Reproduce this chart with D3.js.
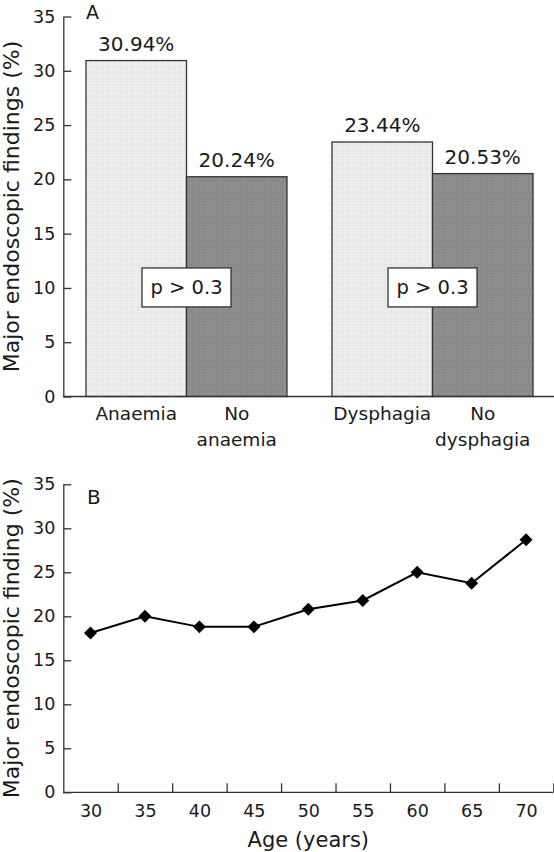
<!DOCTYPE html>
<html>
<head>
<meta charset="utf-8">
<script src="https://cdn.jsdelivr.net/npm/d3@7"></script>
<style>
  html, body { margin: 0; padding: 0; background: #ffffff; }
  svg { display: block; }
  text { font-family: "DejaVu Sans", sans-serif; fill: #1a1a1a; }
</style>
</head>
<body>
<svg id="chart" width="554" height="852"></svg>
<script>
// ---------- Data ----------
const groups = ["Anaemia", "Dysphagia"];
const barKeys = [["Anaemia", "yes"], ["Anaemia", "no"], ["Dysphagia", "yes"], ["Dysphagia", "no"]];
const barLabels = [["Anaemia"], ["No", "anaemia"], ["Dysphagia"], ["No", "dysphagia"]];
const barValues = [30.94, 20.24, 23.44, 20.53];
const barValueLabels = ["30.94%", "20.24%", "23.44%", "20.53%"];
const pLabels = ["p > 0.3", "p > 0.3"];
const yTicks = [0, 5, 10, 15, 20, 25, 30, 35];

const ages = [30, 35, 40, 45, 50, 55, 60, 65, 70];
const findings = [18.1, 20.0, 18.8, 18.8, 20.8, 21.8, 25.0, 23.75, 28.7];
const ageTickMarks = [32.5, 37.5, 42.5, 47.5, 52.5, 57.5, 62.5, 67.5, 72.5];

// ---------- Setup ----------
const svg = d3.select("#chart");
const axisColor = "#333";
const axisWidth = 1.3;

const defs = svg.append("defs");
function makePattern(id, base, line) {
  const p = defs.append("pattern").attr("id", id)
    .attr("patternUnits", "userSpaceOnUse").attr("width", 6).attr("height", 6);
  p.append("rect").attr("width", 6).attr("height", 6).attr("fill", base);
  p.append("path").attr("d", "M0,0.5H6M0.5,0V6").attr("stroke", line).attr("stroke-width", 1.5);
}
makePattern("lightPat", "#eeeeee", "#e6e6e6");
makePattern("darkPat", "#8e8e8e", "#888888");

// ---------- Panel A ----------
const axL = 63.3;
const yA = d3.scaleLinear().domain([0, 35]).range([396.5, 16.5]);
const xOuter = d3.scaleBand().domain(groups).range([64, 555])
  .paddingInner(0.183).paddingOuter(0.0894);
const xInner = d3.scaleBand().domain(["yes", "no"]).range([0, xOuter.bandwidth()]);
const barX = k => xOuter(k[0]) + xInner(k[1]);
const bw = xInner.bandwidth();

const gA = svg.append("g");

// bars
gA.selectAll("rect.bar").data(barValues).join("rect")
  .attr("class", "bar")
  .attr("x", (d, i) => barX(barKeys[i]))
  .attr("width", bw)
  .attr("y", d => yA(d))
  .attr("height", d => yA(0) - yA(d))
  .attr("fill", (d, i) => barKeys[i][1] === "yes" ? "url(#lightPat)" : "url(#darkPat)")
  .attr("stroke", "#333").attr("stroke-width", 1.3);

// value labels
gA.selectAll("text.val").data(barValues).join("text")
  .attr("class", "val")
  .attr("x", (d, i) => barX(barKeys[i]) + bw / 2)
  .attr("y", d => yA(d) - 10)
  .attr("text-anchor", "middle")
  .attr("font-size", 20)
  .text((d, i) => barValueLabels[i]);

// p boxes
const pG = gA.selectAll("g.pbox").data(groups).join("g").attr("class", "pbox")
  .attr("transform", g => `translate(${xOuter(g) + xInner("no")},${yA(10) - 0.5})`);
pG.append("rect").attr("x", -44.5).attr("y", -19.5).attr("width", 89).attr("height", 39)
  .attr("fill", "#fff").attr("stroke", "#333").attr("stroke-width", 1.3);
pG.append("text").attr("text-anchor", "middle").attr("y", 7).attr("font-size", 19.5)
  .text((d, i) => pLabels[i]);

// y axis
gA.append("g").attr("transform", `translate(${axL},0)`)
  .call(d3.axisLeft(yA).tickValues(yTicks).tickSizeInner(-8).tickSizeOuter(0).tickPadding(8));
// x baseline
gA.append("line").attr("x1", axL).attr("x2", 554).attr("y1", yA(0)).attr("y2", yA(0));

// category labels
gA.selectAll("text.cat").data(barLabels).join("text")
  .attr("class", "cat")
  .attr("text-anchor", "middle")
  .attr("font-size", 18.5)
  .each(function (lines, i) {
    const t = d3.select(this);
    const cx = barX(barKeys[i]) + bw / 2;
    lines.forEach((ln, j) => {
      t.append("tspan").attr("x", cx).attr("y", 420 + j * 26).text(ln);
    });
  });

gA.append("text").attr("x", 86).attr("y", 18.5).attr("font-size", 19).text("A");
gA.append("text")
  .attr("transform", `translate(18.5,${(yA(0) + yA(35)) / 2}) rotate(-90)`)
  .attr("text-anchor", "middle").attr("font-size", 22)
  .text("Major endoscopic findings (%)");

// ---------- Panel B ----------
const xB = d3.scaleLinear().domain([27.5, 72.5]).range([63.3, 553.3]);
const yB = d3.scaleLinear().domain([0, 35]).range([792.3, 484.3]);
const gB = svg.append("g");

gB.append("g").attr("transform", `translate(${axL},0)`)
  .call(d3.axisLeft(yB).tickValues(yTicks).tickSizeInner(-8).tickSizeOuter(0).tickPadding(8));

const xAxisB = gB.append("g").attr("transform", `translate(0,${yB(0)})`)
  .call(d3.axisBottom(xB).tickValues(ageTickMarks).tickSizeInner(-9).tickSizeOuter(0).tickFormat(""));
xAxisB.select(".domain").attr("d", `M${xB(27.5)},0H${xB(72.5)}`);

const xLabB = gB.append("g").attr("transform", `translate(0,${yB(0)})`)
  .call(d3.axisBottom(xB).tickValues(ages).tickSize(0).tickPadding(0));
xLabB.select(".domain").remove();
xLabB.selectAll("text").attr("y", 24.5).attr("dy", null);

gB.append("path").datum(findings)
  .attr("fill", "none").attr("stroke", "#000").attr("stroke-width", 2)
  .attr("d", d3.line().x((d, i) => xB(ages[i])).y(d => yB(d)));

gB.selectAll("path.pt").data(findings).join("path").attr("class", "pt")
  .attr("transform", (d, i) => `translate(${xB(ages[i])},${yB(d)}) rotate(45)`)
  .attr("d", d3.symbol().type(d3.symbolSquare).size(84))
  .attr("fill", "#000");

gB.append("text").attr("x", 87).attr("y", 503.5).attr("font-size", 20).text("B");
gB.append("text")
  .attr("x", (xB(27.5) + xB(72.5)) / 2).attr("y", 846.5)
  .attr("text-anchor", "middle").attr("font-size", 21).text("Age (years)");
gB.append("text")
  .attr("transform", `translate(18.5,${(yB(0) + yB(35)) / 2}) rotate(-90)`)
  .attr("text-anchor", "middle").attr("font-size", 22)
  .text("Major endoscopic finding (%)");

// ---------- Styling ----------
svg.selectAll(".domain, .tick line, line").attr("stroke", axisColor).attr("stroke-width", axisWidth);
svg.selectAll(".tick text").attr("font-size", 17.5).attr("fill", "#1a1a1a")
  .attr("font-family", "DejaVu Sans, sans-serif");
</script>
</body>
</html>
